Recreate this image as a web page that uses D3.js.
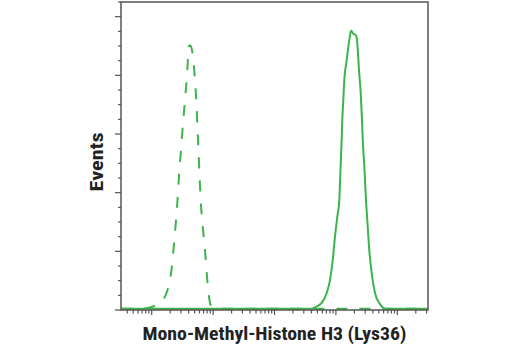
<!DOCTYPE html>
<html>
<head>
<meta charset="utf-8">
<script src="https://cdn.jsdelivr.net/npm/d3@7"></script>
<style>
  body { margin: 0; background: #fff; }
  text { font-family: "Liberation Sans Narrow", "Roboto Condensed", "Liberation Sans", sans-serif; font-weight: bold; fill: #222; }
</style>
</head>
<body>
<svg id="chart" width="520" height="350"></svg>
<script>
// isotype control (dashed)
let controlX = [32, 64, 81, 105, 136, 153, 181, 199, 212, 231, 249, 263, 279, 300, 324, 349, 376, 405, 421,
    453, 507, 537, 557, 578, 601, 628, 677, 738, 787, 858, 925, 1035, 3162000];
let controlY = [0.02, 0.02, 0.03, 0.06, 0.12, 0.17, 0.34, 0.51, 0.72, 1.14, 1.53, 1.87, 2.30, 2.73, 3.19, 3.58, 4.00, 4.50, 4.51,
    4.43, 3.92, 3.49, 3.10, 2.73, 2.30, 1.87, 1.43, 1.02, 0.63, 0.22, 0.07, 0.02, 0.02];

// stained sample (solid)
let sampleX = [32, 3990, 26000, 40360, 48640, 58700, 70800, 80100, 88700, 96700, 105400, 113600, 118800, 124300,
    127100, 132000, 137000, 150000, 165200, 176200, 192000, 212400, 223200, 237800, 253500, 266100, 273100,
    292300, 309100, 324600, 349800, 382800, 433400, 522200, 654600, 3162000];
let sampleY = [0.02, 0.02, 0.02, 0.02, 0.06, 0.12, 0.29, 0.51, 0.85, 1.25, 1.59, 1.87, 2.39, 2.93,
    3.24, 3.58, 3.92, 4.26, 4.60, 4.76, 4.71, 4.68, 4.55, 4.09, 3.70, 3.24, 2.93,
    2.39, 1.87, 1.53, 1.02, 0.63, 0.29, 0.10, 0.02, 0.02];

let xDomain = [Math.pow(10, 1.5), Math.pow(10, 6.5)];
let yMax = 5.25;
let xLabel = "Mono-Methyl-Histone H3 (Lys36)";
let yLabel = "Events";

let plotLeft = 121, plotRight = 428, plotTop = 2, plotBottom = 310;
let green = "#3bb54a";
let axisColor = "#555";

let svg = d3.select("#chart");

let x = d3.scaleLog().domain(xDomain).range([plotLeft, plotRight]);
let y = d3.scaleLinear().domain([0, yMax]).range([plotBottom, plotTop]);

let line = d3.line()
    .x((d) => x(d[0]))
    .y((d) => y(d[1]))
    .curve(d3.curveMonotoneX);

svg.append("path")
    .attr("d", line(d3.zip(controlX, controlY)))
    .attr("fill", "none")
    .attr("stroke", green)
    .attr("stroke-width", 2)
    .attr("stroke-dasharray", "11,12");

svg.append("path")
    .attr("d", line(d3.zip(sampleX, sampleY)))
    .attr("fill", "none")
    .attr("stroke", green)
    .attr("stroke-width", 2);

// frame
svg.append("rect")
    .attr("x", plotLeft).attr("y", plotTop)
    .attr("width", plotRight - plotLeft).attr("height", plotBottom - plotTop)
    .attr("fill", "none")
    .attr("stroke", axisColor)
    .attr("stroke-width", 1.5);

// x ticks (log, decade ticks a bit longer)
x.ticks().forEach((t) => {
    let major = Math.abs(Math.log10(t) - Math.round(Math.log10(t))) < 1e-6;
    svg.append("line")
        .attr("x1", x(t)).attr("x2", x(t))
        .attr("y1", plotBottom).attr("y2", plotBottom + (major ? 5 : 3.5))
        .attr("stroke", axisColor)
        .attr("stroke-width", 1.2);
});

// y ticks
d3.range(0, yMax + 0.001, 0.25).forEach((t) => {
    let major = Math.abs(t - Math.round(t)) < 1e-6;
    svg.append("line")
        .attr("x1", plotLeft).attr("x2", plotLeft - (major ? 6 : 3))
        .attr("y1", y(t)).attr("y2", y(t))
        .attr("stroke", axisColor)
        .attr("stroke-width", 1.2);
});

svg.append("text")
    .attr("x", (plotLeft + plotRight) / 2)
    .attr("y", 340)
    .attr("text-anchor", "middle")
    .attr("font-size", 19)
    .attr("textLength", 264)
    .attr("lengthAdjust", "spacingAndGlyphs")
    .text(xLabel);

svg.append("text")
    .attr("transform", `translate(103,${(plotTop + plotBottom) / 2 + 6}) rotate(-90)`)
    .attr("text-anchor", "middle")
    .attr("font-size", 19)
    .attr("textLength", 59)
    .attr("lengthAdjust", "spacingAndGlyphs")
    .text(yLabel);
</script>
</body>
</html>
